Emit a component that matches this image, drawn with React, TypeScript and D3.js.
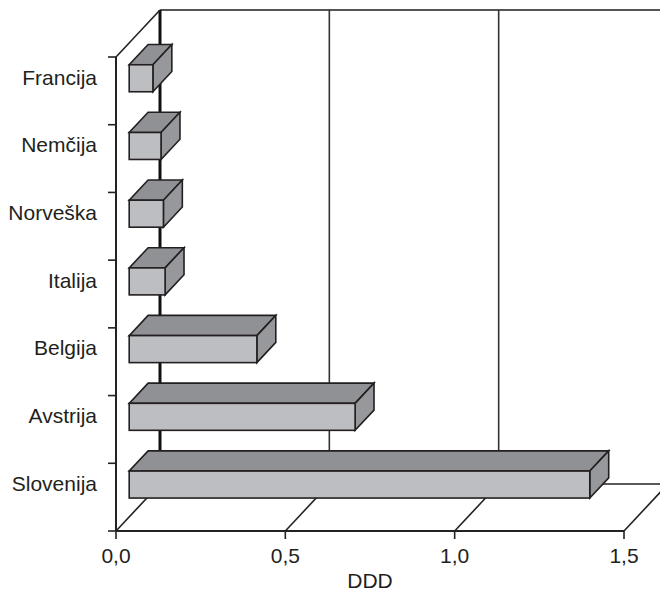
import React from "react";
import * as d3 from "d3";

const categories = ["Francija", "Nemčija", "Norveška", "Italija", "Belgija", "Avstrija", "Slovenija"];
const values = [0.07, 0.094, 0.101, 0.106, 0.377, 0.667, 1.36];
const xTicks = [0, 0.5, 1.0, 1.5];
const xTickLabels = ["0,0", "0,5", "1,0", "1,5"];
const axisTitle = "DDD";

const W = 660;
const H = 593;
const DX = 44;
const DY = 47;
const D0 = 0.3;
const D1 = 0.73;
const FONT = "'Liberation Sans', Arial, sans-serif";

export default function App() {
  const x = d3.scaleLinear().domain([0, 1.5]).range([116, 624]);
  const y = d3.scaleBand<string>().domain(categories).range([57, 531]);
  const floorY = 531;
  const topY = 57;
  const barH = 27;
  const ox0 = D0 * DX, oy0 = D0 * DY;
  const ddx = (D1 - D0) * DX, ddy = (D1 - D0) * DY;
  const x0 = x(0);
  const xMax = x(1.5);
  const band = y.bandwidth();

  const pts = (p: number[][]) => p.map((q) => q.join(",")).join(" ");

  return (
    <svg width={W} height={H} style={{ position: "fixed", left: 0, top: 0, background: "#fff" }}>
      {/* back wall */}
      <line x1={x0 + DX} y1={topY - DY} x2={xMax + DX + 20} y2={topY - DY} stroke="#555" strokeWidth={2} />
      {xTicks.slice(1).map((t) => (
        <line key={"g" + t} x1={x(t) + DX} y1={topY - DY} x2={x(t) + DX} y2={floorY - DY} stroke="#333" strokeWidth={1.6} />
      ))}
      <line x1={x0 + DX} y1={topY - DY} x2={x0 + DX} y2={floorY - DY} stroke="#111" strokeWidth={3} />
      {/* floor */}
      <line x1={x0 + DX} y1={floorY - DY} x2={xMax + DX + 20} y2={floorY - DY} stroke="#222" strokeWidth={1.6} />
      {xTicks.map((t) => (
        <line key={"f" + t} x1={x(t)} y1={floorY} x2={x(t) + DX} y2={floorY - DY} stroke="#222" strokeWidth={1.6} />
      ))}
      {/* left wall */}
      <line x1={x0} y1={topY} x2={x0 + DX} y2={topY - DY} stroke="#222" strokeWidth={1.6} />
      <line x1={x0} y1={topY} x2={x0} y2={floorY} stroke="#222" strokeWidth={2} />
      {d3.range(categories.length + 1).map((i) => (
        <line key={"yt" + i} x1={x0 - 8} y1={topY + i * band} x2={x0} y2={topY + i * band} stroke="#222" strokeWidth={1.6} />
      ))}
      {/* front axis */}
      <line x1={x0} y1={floorY} x2={xMax} y2={floorY} stroke="#222" strokeWidth={2} />
      {xTicks.map((t, i) => (
        <g key={"xt" + t}>
          <line x1={x(t)} y1={floorY} x2={x(t)} y2={floorY + 8} stroke="#222" strokeWidth={1.6} />
          <text x={x(t)} y={563} textAnchor="middle" fontFamily={FONT} fontSize={21} fill="#231f20">
            {xTickLabels[i]}
          </text>
        </g>
      ))}
      <text x={(x0 + xMax) / 2} y={588} textAnchor="middle" fontFamily={FONT} fontSize={21} fill="#231f20">
        {axisTitle}
      </text>
      {/* bars */}
      {categories.map((c, i) => {
        const cy = (y(c) as number) + band / 2 - oy0 + 1.5;
        const xl = x0 + ox0;
        const xr = x(values[i]) + ox0;
        const yt = cy - barH / 2;
        const yb = cy + barH / 2;
        return (
          <g key={c} stroke="#231f20" strokeWidth={1.6} strokeLinejoin="miter">
            <polygon points={pts([[xl, yt], [xr, yt], [xr + ddx, yt - ddy], [xl + ddx, yt - ddy]])} fill="#8f9195" />
            <polygon points={pts([[xr, yt], [xr + ddx, yt - ddy], [xr + ddx, yb - ddy], [xr, yb]])} fill="#97989c" />
            <rect x={xl} y={yt} width={xr - xl} height={barH} fill="#bdbec2" />
            <text x={97} y={cy - 1} dy="0.35em" textAnchor="end" fontFamily={FONT} fontSize={21} fill="#231f20" stroke="none">
              {c}
            </text>
          </g>
        );
      })}
    </svg>
  );
}
